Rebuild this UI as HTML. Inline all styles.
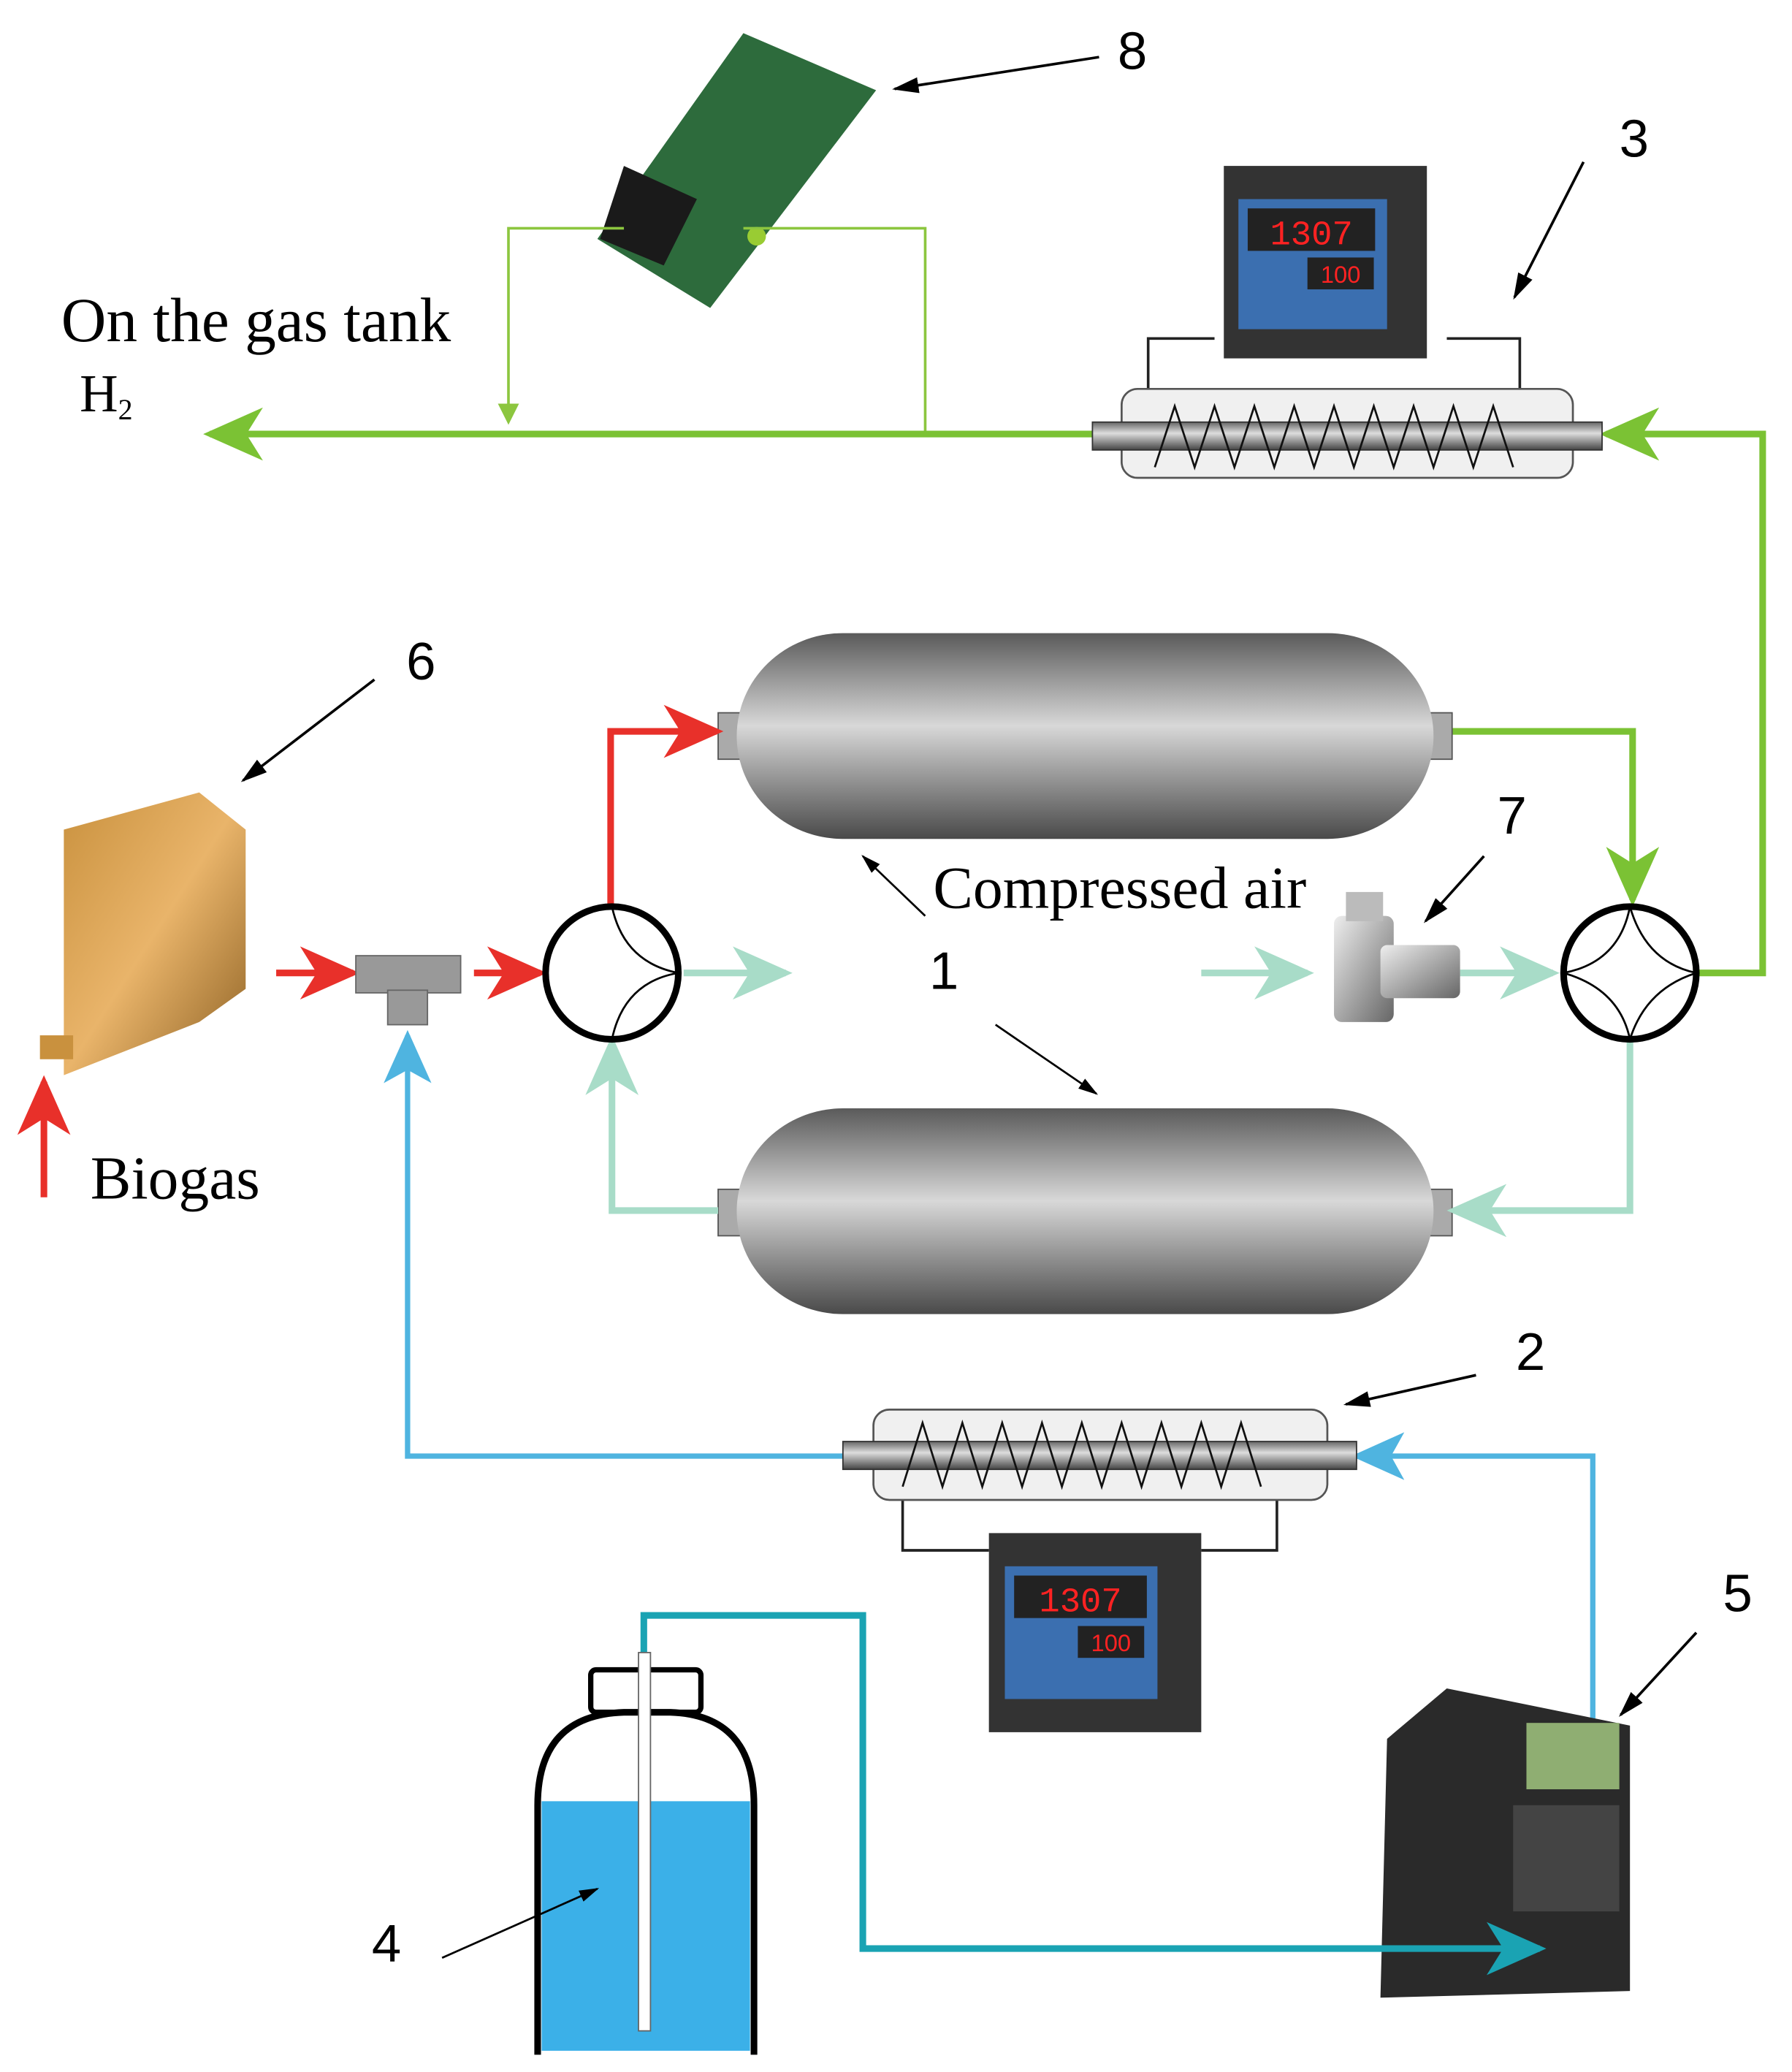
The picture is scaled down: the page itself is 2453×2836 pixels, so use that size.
<!DOCTYPE html>
<html><head><meta charset="utf-8"><style>html,body{margin:0;padding:0;background:#fff}svg{display:block}</style></head>
<body>
<svg width="2453" height="2836" viewBox="0 0 1350 1561" xmlns="http://www.w3.org/2000/svg" font-family="Liberation Sans, sans-serif">
<defs>
<linearGradient id="tank" x1="0" y1="0" x2="0" y2="1"><stop offset="0" stop-color="#5a5a5a"/><stop offset="0.45" stop-color="#d8d8d8"/><stop offset="0.75" stop-color="#8a8a8a"/><stop offset="1" stop-color="#4a4a4a"/></linearGradient>
<linearGradient id="rod" x1="0" y1="0" x2="0" y2="1"><stop offset="0" stop-color="#666"/><stop offset="0.4" stop-color="#ddd"/><stop offset="1" stop-color="#444"/></linearGradient>
<linearGradient id="gold" x1="0" y1="0" x2="1" y2="1"><stop offset="0" stop-color="#c9913e"/><stop offset="0.5" stop-color="#e9b46a"/><stop offset="1" stop-color="#8d6124"/></linearGradient>
<linearGradient id="silver" x1="0" y1="0" x2="1" y2="1"><stop offset="0" stop-color="#eee"/><stop offset="0.5" stop-color="#aaa"/><stop offset="1" stop-color="#666"/></linearGradient>
<marker id="ag" markerWidth="9" markerHeight="8" refX="8" refY="4" orient="auto" markerUnits="strokeWidth"><path d="M0,0 L9,4 L0,8 L2.5,4z" fill="#7bc234"/></marker>
<marker id="am" markerWidth="9" markerHeight="8" refX="8" refY="4" orient="auto" markerUnits="strokeWidth"><path d="M0,0 L9,4 L0,8 L2.5,4z" fill="#a8dcc8"/></marker>
<marker id="ar" markerWidth="9" markerHeight="8" refX="8" refY="4" orient="auto" markerUnits="strokeWidth"><path d="M0,0 L9,4 L0,8 L2.5,4z" fill="#e8302a"/></marker>
<marker id="ab" markerWidth="10" markerHeight="9" refX="9" refY="4.5" orient="auto" markerUnits="strokeWidth"><path d="M0,0 L10,4.5 L0,9 L2.5,4.5z" fill="#4fb4e0"/></marker>
<marker id="at" markerWidth="9" markerHeight="8" refX="8" refY="4" orient="auto" markerUnits="strokeWidth"><path d="M0,0 L9,4 L0,8 L2.5,4z" fill="#1aa3b3"/></marker>
<marker id="alg" markerWidth="8" markerHeight="8" refX="7" refY="4" orient="auto" markerUnits="strokeWidth"><path d="M0,0 L8,4 L0,8z" fill="#8cc63f"/></marker>
<marker id="ak" markerWidth="10" markerHeight="8" refX="9" refY="4" orient="auto" markerUnits="strokeWidth"><path d="M0,1 L10,4 L0,7z" fill="#000"/></marker>
</defs>
<rect width="1350" height="1561" fill="#fff"/>
<!-- PCB -->
<polygon points="560,25 660,68 535,232 450,180" fill="#2d6b3c"/>
<polygon points="470,125 525,150 500,200 452,180" fill="#1a1a1a"/>
<circle cx="570" cy="178" r="7" fill="#9c3"/>
<!-- thin green wires -->
<path d="M470,172 H383 V318" stroke="#8cc63f" stroke-width="2" fill="none" marker-end="url(#alg)"/>
<path d="M560,172 H697 V327" stroke="#8cc63f" stroke-width="2" fill="none"/>
<!-- main green line -->
<path d="M823,327 H158" stroke="#7bc234" stroke-width="5" fill="none" marker-end="url(#ag)"/>
<path d="M1280,733 H1328 V327 H1210" stroke="#7bc234" stroke-width="5" fill="none" marker-end="url(#ag)"/>
<path d="M1093,551 H1230 V678" stroke="#7bc234" stroke-width="5" fill="none" marker-end="url(#ag)"/>
<!-- heater 3 -->
<path d="M865,295 V255 H915 M1090,255 H1145 V295" stroke="#222" stroke-width="2" fill="none"/>
<rect x="845" y="293" width="340" height="67" rx="12" fill="#f0f0f0" stroke="#555" stroke-width="1.5"/>
<rect x="823" y="318" width="384" height="21" fill="url(#rod)" stroke="#333"/>
<polyline points="870,352 885,306 900,352 915,306 930,352 945,306 960,352 975,306 990,352 1005,306 1020,352 1035,306 1050,352 1065,306 1080,352 1095,306 1110,352 1125,306 1140,352" stroke="#111" stroke-width="1.5" fill="none"/>
<rect x="922" y="125" width="153" height="145" fill="#333"/>
<rect x="933" y="150" width="112" height="98" fill="#3b6fb0"/>
<rect x="940" y="157" width="96" height="32" fill="#222"/><text x="988" y="184" fill="#f22" font-size="26" text-anchor="middle" font-family="Liberation Mono">1307</text>
<rect x="985" y="194" width="50" height="24" fill="#222"/><text x="1010" y="213" fill="#f22" font-size="18" text-anchor="middle">100</text>
<!-- labels top -->
<text x="46" y="257" font-family="Liberation Serif, serif" font-size="47">On the gas tank</text>
<text x="60" y="310" font-family="Liberation Serif, serif" font-size="40">H<tspan font-size="22" dy="6">2</tspan></text>
<text x="842" y="52" font-size="40">8</text>
<line x1="828" y1="43" x2="674" y2="67" stroke="#000" stroke-width="2" marker-end="url(#ak)"/>
<text x="1220" y="118" font-size="40">3</text>
<line x1="1193" y1="122" x2="1141" y2="224" stroke="#000" stroke-width="2" marker-end="url(#ak)"/>
<!-- tanks -->
<rect x="541" y="537" width="17" height="35" fill="#aaa" stroke="#555"/>
<rect x="1077" y="537" width="17" height="35" fill="#aaa" stroke="#555"/>
<rect x="555" y="477" width="525" height="155" rx="80" fill="url(#tank)"/>
<rect x="541" y="896" width="17" height="35" fill="#aaa" stroke="#555"/>
<rect x="1077" y="896" width="17" height="35" fill="#aaa" stroke="#555"/>
<rect x="555" y="835" width="525" height="155" rx="80" fill="url(#tank)"/>
<!-- red -->
<path d="M460,683 V551 H540" stroke="#e8302a" stroke-width="5" fill="none" marker-end="url(#ar)"/>
<path d="M208,733 H266" stroke="#e8302a" stroke-width="5" marker-end="url(#ar)"/>
<path d="M357,733 H407" stroke="#e8302a" stroke-width="5" marker-end="url(#ar)"/>
<path d="M33,902 V815" stroke="#e8302a" stroke-width="5" marker-end="url(#ar)"/>
<!-- mint -->
<path d="M541,912 H461 V785" stroke="#a8dcc8" stroke-width="5" fill="none" marker-end="url(#am)"/>
<path d="M1228,785 V912 H1095" stroke="#a8dcc8" stroke-width="5" fill="none" marker-end="url(#am)"/>
<path d="M515,733 H592" stroke="#a8dcc8" stroke-width="5" marker-end="url(#am)"/>
<path d="M905,733 H985" stroke="#a8dcc8" stroke-width="5" marker-end="url(#am)"/>
<path d="M1100,733 H1170" stroke="#a8dcc8" stroke-width="5" marker-end="url(#am)"/>
<!-- valves -->
<circle cx="461" cy="733" r="50" fill="#fff" stroke="#000" stroke-width="5"/>
<path d="M461,683 Q470,725 511,733 M511,733 Q470,740 461,783" stroke="#000" stroke-width="1.5" fill="none"/>
<circle cx="1228" cy="733" r="50" fill="#fff" stroke="#000" stroke-width="5"/>
<path d="M1178,733 Q1220,725 1228,683 M1228,683 Q1240,725 1278,733 M1178,733 Q1220,745 1228,783 M1278,733 Q1240,745 1228,783" stroke="#000" stroke-width="1.5" fill="none"/>
<!-- tee -->
<rect x="268" y="720" width="79" height="28" fill="#999" stroke="#666"/>
<rect x="292" y="746" width="30" height="26" fill="#999" stroke="#666"/>
<!-- valve 7 -->
<rect x="1005" y="690" width="45" height="80" rx="6" fill="url(#silver)"/>
<rect x="1040" y="712" width="60" height="40" rx="5" fill="url(#silver)"/>
<rect x="1014" y="672" width="28" height="22" fill="#bbb"/>
<!-- device 6 -->
<polygon points="48,625 150,597 185,625 185,745 150,770 48,810" fill="url(#gold)"/>
<rect x="30" y="780" width="25" height="18" fill="#c9913e"/>
<!-- text mid -->
<text x="703" y="684" font-family="Liberation Serif, serif" font-size="45">Compressed air</text>
<text x="700" y="745" font-size="40">1</text>
<line x1="697" y1="690" x2="650" y2="645" stroke="#000" stroke-width="1.5" marker-end="url(#ak)"/>
<line x1="750" y1="772" x2="826" y2="824" stroke="#000" stroke-width="1.5" marker-end="url(#ak)"/>
<text x="1128" y="628" font-size="40">7</text>
<line x1="1118" y1="645" x2="1074" y2="694" stroke="#000" stroke-width="2" marker-end="url(#ak)"/>
<text x="306" y="512" font-size="40">6</text>
<line x1="282" y1="512" x2="183" y2="588" stroke="#000" stroke-width="2" marker-end="url(#ak)"/>
<text x="68" y="903" font-family="Liberation Serif, serif" font-size="46">Biogas</text>
<!-- blue -->
<path d="M635,1097 H307 V780" stroke="#4fb4e0" stroke-width="4" fill="none" marker-end="url(#ab)"/>
<path d="M1200,1465 V1097 H1022" stroke="#4fb4e0" stroke-width="4" fill="none" marker-end="url(#ab)"/>
<!-- heater 2 -->
<path d="M680,1130 V1168 H745 M962,1130 V1168 H905" stroke="#222" stroke-width="2" fill="none"/>
<rect x="658" y="1062" width="342" height="68" rx="12" fill="#f0f0f0" stroke="#555" stroke-width="1.5"/>
<rect x="635" y="1086" width="387" height="21" fill="url(#rod)" stroke="#333"/>
<polyline points="680,1120 695,1072 710,1120 725,1072 740,1120 755,1072 770,1120 785,1072 800,1120 815,1072 830,1120 845,1072 860,1120 875,1072 890,1120 905,1072 920,1120 935,1072 950,1120" stroke="#111" stroke-width="1.5" fill="none"/>
<rect x="745" y="1155" width="160" height="150" fill="#333"/>
<rect x="757" y="1180" width="115" height="100" fill="#3b6fb0"/>
<rect x="764" y="1187" width="100" height="32" fill="#222"/><text x="814" y="1214" fill="#f22" font-size="26" text-anchor="middle" font-family="Liberation Mono">1307</text>
<rect x="812" y="1225" width="50" height="24" fill="#222"/><text x="837" y="1244" fill="#f22" font-size="18" text-anchor="middle">100</text>
<text x="1142" y="1032" font-size="40">2</text>
<line x1="1112" y1="1036" x2="1014" y2="1058" stroke="#000" stroke-width="2" marker-end="url(#ak)"/>
<text x="1298" y="1214" font-size="40">5</text>
<line x1="1278" y1="1230" x2="1221" y2="1292" stroke="#000" stroke-width="2" marker-end="url(#ak)"/>
<!-- pump -->
<polygon points="1045,1310 1090,1272 1228,1300 1228,1500 1040,1505" fill="#2a2a2a"/>
<rect x="1150" y="1298" width="70" height="50" fill="#8fae72"/>
<rect x="1140" y="1360" width="80" height="80" fill="#444"/>
<!-- teal line -->
<path d="M485,1245 V1217 H650 V1468 H1160" stroke="#1aa3b3" stroke-width="5" fill="none" marker-end="url(#at)"/>
<!-- bottle -->
<rect x="445" y="1258" width="83" height="32" rx="4" fill="#fff" stroke="#000" stroke-width="4"/>
<path d="M405,1548 V1360 Q405,1292 470,1290 H505 Q568,1292 568,1360 V1548" fill="#fff" stroke="#000" stroke-width="5"/>
<rect x="408" y="1357" width="157" height="188" fill="#3bb0e8"/>
<rect x="481" y="1245" width="9" height="285" fill="#fff" stroke="#666" stroke-width="1"/>
<text x="280" y="1478" font-size="40">4</text>
<line x1="333" y1="1475" x2="450" y2="1423" stroke="#000" stroke-width="1.5" marker-end="url(#ak)"/>
</svg>
</body></html>
